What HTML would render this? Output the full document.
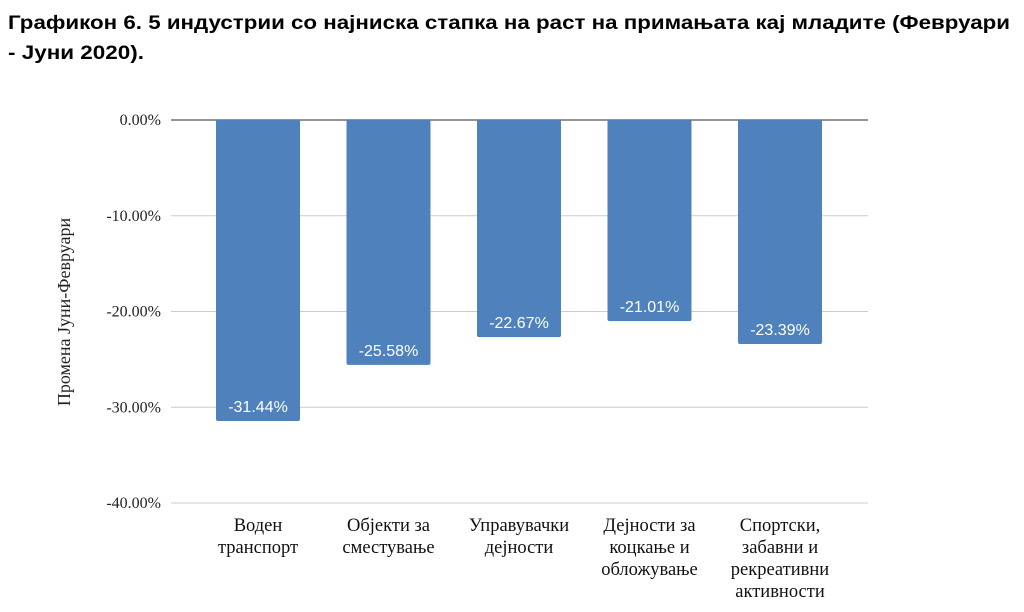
<!DOCTYPE html>
<html><head><meta charset="utf-8"><style>
html,body{margin:0;padding:0;background:#fff;width:1024px;height:612px;overflow:hidden}
</style></head><body>
<svg id="chart" width="1024" height="612" xmlns="http://www.w3.org/2000/svg">
<text x="8" y="29" font-family="Liberation Sans, sans-serif" font-weight="bold" font-size="19" textLength="1002" lengthAdjust="spacingAndGlyphs" fill="#000">Графикон 6. 5 индустрии со најниска стапка на раст на примањата кај младите (Февруари</text>
<text x="8" y="59" font-family="Liberation Sans, sans-serif" font-weight="bold" font-size="19" textLength="136" lengthAdjust="spacingAndGlyphs" fill="#000">- Јуни 2020).</text>
<text transform="translate(70,312) rotate(-90)" text-anchor="middle" font-family="Liberation Serif, serif" font-size="18" fill="#222">Промена Јуни-Февруари</text>
<g id="grid"></g><g id="bars"></g><g id="labels"></g>
</svg>
<script>
const categories=[["Воден","транспорт"],["Објекти за","сместување"],["Управувачки","дејности"],["Дејности за","коцкање и","обложување"],["Спортски,","забавни и","рекреативни","активности"]];
const values=[-31.44,-25.58,-22.67,-21.01,-23.39];
const ticks=[0,-10,-20,-30,-40];
const NS="http://www.w3.org/2000/svg";
const x0=171,x1=868,yZero=120,pxPer=9.575;
const y=v=>yZero-v*pxPer;
const bw=84;
const cx=i=>258+130.5*i;
function mk(t,a,p){const e=document.createElementNS(NS,t);for(const k in a)e.setAttribute(k,a[k]);p.appendChild(e);return e;}
const grid=document.getElementById('grid'),bars=document.getElementById('bars'),labels=document.getElementById('labels');
ticks.forEach(t=>{
 const l=mk('line',{x1:x0,x2:x1,y1:y(t),y2:y(t),stroke:t===0?'#555':'#ccc','stroke-width':t===0?1.3:1},grid);
 
 
 const tx=mk('text',{x:161,y:y(t)+5,'text-anchor':'end','font-family':'Liberation Serif, serif','font-size':16,fill:'#222'},grid);
 tx.textContent=t.toFixed(2)+'%';
 
 
});
values.forEach((v,i)=>{
 const r=mk('rect',{x:cx(i)-bw/2,y:y(0),width:bw,height:y(v)-y(0),fill:'#4f81bd',rx:2},bars);
 
 
 const t=mk('text',{x:cx(i),y:y(v)-9,'text-anchor':'middle','font-family':'Liberation Sans, sans-serif','font-size':16,fill:'#fff'},labels);
 t.textContent=v.toFixed(2)+'%';
 
 
 categories[i].forEach((ln,j)=>{
  const c=mk('text',{x:cx(i),y:531+j*22,'text-anchor':'middle','font-family':'Liberation Serif, serif','font-size':18.5,fill:'#111'},labels);
  c.textContent=ln;
  
  
 });
});
</script>
</body></html>
